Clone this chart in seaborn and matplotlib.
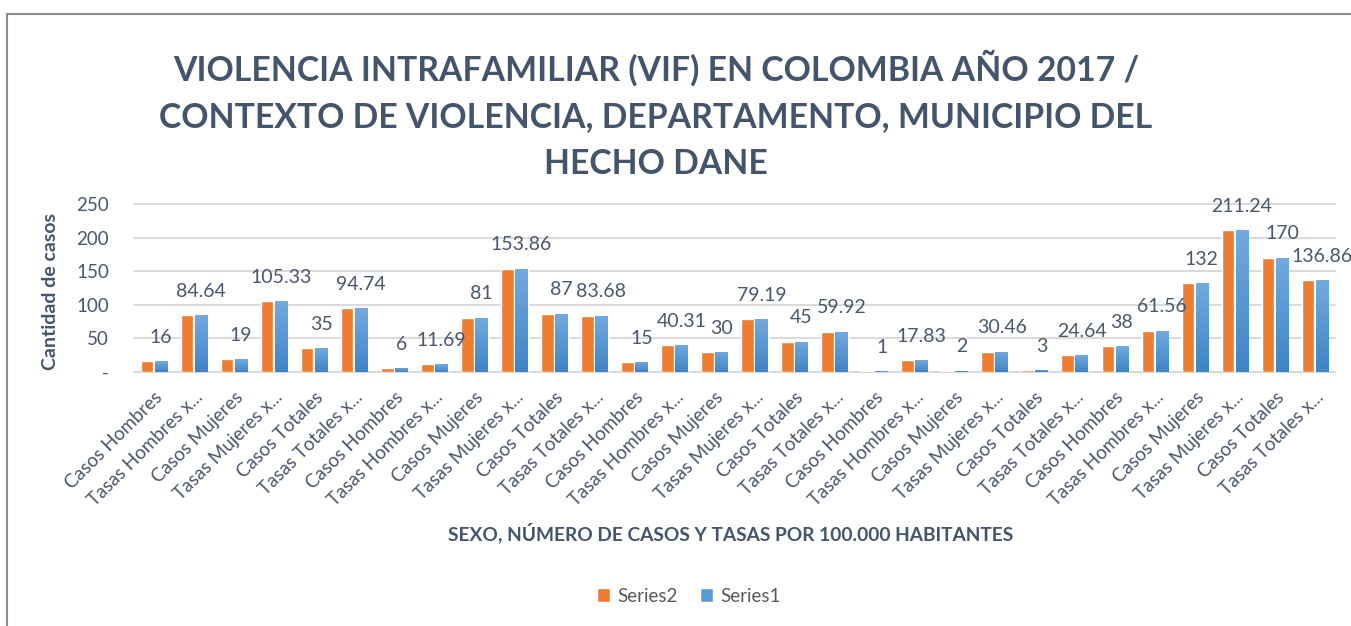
import matplotlib
matplotlib.use("Agg")
import matplotlib.pyplot as plt
from matplotlib.lines import Line2D
from matplotlib.patches import Patch
from matplotlib.colors import LinearSegmentedColormap
import seaborn as sns
import pandas as pd
import numpy as np

# ---- data ----
categories = [
    "Casos Hombres", "Tasas Hombres x...", "Casos Mujeres", "Tasas Mujeres x...", "Casos Totales", "Tasas Totales x...",
    "Casos Hombres", "Tasas Hombres x...", "Casos Mujeres", "Tasas Mujeres x...", "Casos Totales", "Tasas Totales x...",
    "Casos Hombres", "Tasas Hombres x...", "Casos Mujeres", "Tasas Mujeres x...", "Casos Totales", "Tasas Totales x...",
    "Casos Hombres", "Tasas Hombres x...", "Casos Mujeres", "Tasas Mujeres x...", "Casos Totales", "Tasas Totales x...",
    "Casos Hombres", "Tasas Hombres x...", "Casos Mujeres", "Tasas Mujeres x...", "Casos Totales", "Tasas Totales x...",
]
series2_values = [16, 84.64, 19, 105.33, 35, 94.74,
                  6, 11.69, 81, 153.86, 87, 83.68,
                  15, 40.31, 30, 79.19, 45, 59.92,
                  1, 17.83, 2, 30.46, 3, 24.64,
                  38, 61.56, 132, 211.24, 170, 136.86]
series1_values = [16, 84.64, 19, 105.33, 35, 94.74,
                  6, 11.69, 81, 153.86, 87, 83.68,
                  15, 40.31, 30, 79.19, 45, 59.92,
                  1, 17.83, 2, 30.46, 3, 24.64,
                  38, 61.56, 132, 211.24, 170, 136.86]
series_names = ["Series2", "Series1"]
y_ticks = [0, 50, 100, 150, 200, 250]
y_tick_labels = ["-", "50", "100", "150", "200", "250"]

title = ("VIOLENCIA INTRAFAMILIAR (VIF) EN COLOMBIA AÑO 2017 /\n"
         "CONTEXTO DE VIOLENCIA, DEPARTAMENTO, MUNICIPIO DEL\n"
         "HECHO DANE")
x_title = "SEXO, NÚMERO DE CASOS Y TASAS POR 100.000 HABITANTES"
y_title = "Cantidad de casos"

# ---- build table ----
n = len(categories)
df = pd.DataFrame({
    "pos": list(range(n)) * 2,
    "value": series2_values + series1_values,
    "serie": [series_names[0]] * n + [series_names[1]] * n,
})

sns.set_theme(style="white")
plt.rcParams["font.family"] = ["Lato", "DejaVu Sans"]

ORANGE = "#ED7D31"
BLUE = "#5B9BD5"
TXT = "#4A566A"
TITLE_C = "#44546A"

W, H = 1351, 626
fig = plt.figure(figsize=(W / 100, H / 100), dpi=100)
ax = fig.add_axes([134 / W, 1 - 372 / H, (1335 - 134) / W, (372 - 204) / H])

sns.barplot(data=df, x="pos", y="value", hue="serie", hue_order=series_names,
            palette=[ORANGE, BLUE], width=0.7, gap=0.1, ax=ax, legend=False,
            saturation=1, errorbar=None)

ax.set_ylim(0, 250)
ax.set_xlim(-0.5, n - 0.5)

# vertical gradient on Series1 bars (lighter at top, darker at bottom)
grad_cmap = LinearSegmentedColormap.from_list("bluegrad", ["#3F84C6", "#72AADF"])
grad = np.linspace(0, 1, 64).reshape(-1, 1)
for p in ax.containers[1]:
    x0, y0 = p.get_x(), p.get_y()
    w, h = p.get_width(), p.get_height()
    if h <= 0:
        continue
    im = ax.imshow(grad, cmap=grad_cmap, origin="lower", aspect="auto",
                   extent=(x0, x0 + w, y0, y0 + h), zorder=p.get_zorder() + 0.1,
                   interpolation="bilinear")
    im.set_clip_path(p)
ax.set_ylim(0, 250)
ax.set_xlim(-0.5, n - 0.5)

ax.set_yticks(y_ticks)
ax.set_yticklabels(y_tick_labels, fontsize=13.5, color=TXT)
ax.set_xticks(range(n))
ax.set_xticklabels(categories, rotation=45, ha="right", rotation_mode="anchor",
                   fontsize=13.5, color=TXT)
ax.tick_params(axis="y", length=0, pad=18)
ax.tick_params(axis="x", length=0, pad=12)
for s in ax.spines.values():
    s.set_visible(False)
ax.yaxis.grid(True, color="#D9D9D9", linewidth=1.4)
ax.set_axisbelow(True)
for gl in ax.get_ygridlines():
    gl.set_clip_on(False)
ax.set_xlabel("")
ax.set_ylabel("")

# data labels on Series1 bars
ax.bar_label(ax.containers[1], labels=[f"{v:g}" for v in series1_values],
             padding=11, fontsize=14, color=TXT)

# titles
fig.text(656 / W, 1 - 115 / H, title, ha="center", va="center",
         multialignment="center", fontsize=24.3, fontweight="bold",
         color=TITLE_C, linespacing=1.57)
fig.text(51 / W, 1 - 291 / H, y_title, rotation=90, ha="center", va="center",
         fontsize=14, fontweight="bold", color=TITLE_C)
fig.text(731 / W, 1 - 533 / H, x_title, ha="center", va="center",
         fontsize=13.8, fontweight="bold", color=TITLE_C)

# legend
handles = [Patch(facecolor=ORANGE), Patch(facecolor=BLUE)]
fig.legend(handles, series_names, loc="center", bbox_to_anchor=(689 / W, 1 - 596 / H),
           ncol=2, frameon=False, fontsize=13.5, handlelength=0.7, handleheight=0.7,
           handletextpad=0.4, columnspacing=1.2, labelcolor="#595959")

# chart frame (left and top edges)
fig.add_artist(Line2D([6.5 / W, 6.5 / W], [0, 1 - 13.5 / H], color="#8C8C8C", lw=1.5,
                      transform=fig.transFigure))
fig.add_artist(Line2D([6.5 / W, 1], [1 - 13.5 / H, 1 - 13.5 / H], color="#8C8C8C", lw=1.5,
                      transform=fig.transFigure))

fig.savefig("out.png", dpi=100, facecolor="white")
